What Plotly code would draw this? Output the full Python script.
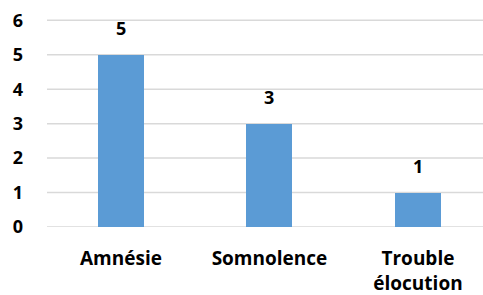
import plotly.graph_objects as go

categories = ["Amnésie", "Somnolence", "Trouble<br>élocution"]
values = [5, 3, 1]
y_ticks = [0, 1, 2, 3, 4, 5, 6]

bar_color = "#5B9BD5"
grid_color = "#D9D9D9"
font_family = "'Open Sans', sans-serif"

fig = go.Figure()
fig.add_trace(go.Bar(
    x=list(range(len(categories))),
    y=values,
    width=0.31,
    marker=dict(color=bar_color, line=dict(width=0)),
    hoverinfo="skip",
))

for i, v in enumerate(values):
    fig.add_annotation(
        x=i, y=v, text=f"<b>{v}</b>", showarrow=False,
        yanchor="bottom", yshift=13,
        font=dict(family=font_family, size=18, color="#000000"),
    )

# gridlines drawn for every y tick (the top one included)
for t in y_ticks:
    fig.add_shape(
        type="line", xref="paper", yref="y",
        x0=0, x1=1, y0=t, y1=t,
        line=dict(color=grid_color, width=1.5),
        layer="below",
    )

fig.update_layout(
    width=483, height=295,
    margin=dict(l=47, r=0, t=10, b=68, autoexpand=False),
    paper_bgcolor="white", plot_bgcolor="white",
    showlegend=False,
    font=dict(family=font_family, size=18, color="#000000"),
    bargap=0,
)
fig.update_xaxes(
    range=[-0.498, 2.438],
    tickmode="array",
    tickvals=list(range(len(categories))),
    ticktext=[f"<b>{c}</b>" for c in categories],
    tickfont=dict(size=19),
    showgrid=False, zeroline=False, showline=False, ticks="",
    ticklabelstandoff=18, automargin=False,
)
fig.update_yaxes(
    range=[0, 6.3],
    tickmode="array",
    tickvals=y_ticks,
    ticktext=[f"<b>{t}</b>" for t in y_ticks],
    showgrid=False, zeroline=False,
    showline=False, ticks="",
    ticklabelstandoff=23, automargin=False,
)

fig.write_html(
    "out.html",
    config={"displayModeBar": False},
    post_script="document.body.style.margin='0';document.body.style.padding='0';",
)
